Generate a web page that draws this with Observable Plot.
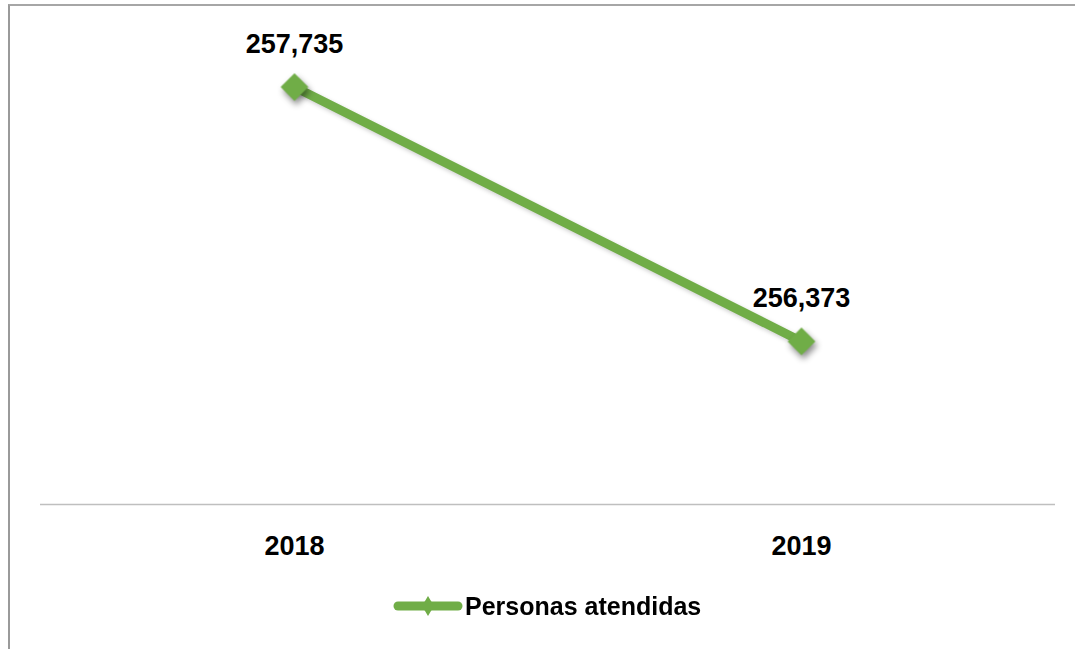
<!DOCTYPE html>
<html>
<head>
<meta charset="utf-8">
<script src="https://cdn.jsdelivr.net/npm/d3@7"></script>
<script src="https://cdn.jsdelivr.net/npm/@observablehq/plot@0.6"></script>
<style>
  html, body { margin: 0; padding: 0; background: #fff; }
  #wrap { position: relative; width: 1075px; height: 649px; overflow: hidden; font-family: "Liberation Sans", Arial, sans-serif; }
  #frame { position: absolute; left: 8px; top: 4px; right: -2px; bottom: -2px; border-left: 2px solid #9a9a9a; border-top: 2px solid #a6a6a6; pointer-events: none; }
  #chart { position: absolute; left: 0; top: 0; }
  #legend { position: absolute; left: 393px; top: 592px; height: 28px; display: flex; align-items: center; font-weight: bold; font-size: 25px; color: #000; }
  #legend svg { display: block; margin-right: 2px; }
</style>
</head>
<body>
<div id="wrap">
  <div id="chart"></div>
  <div id="frame"></div>
  <div id="legend"></div>
</div>
<script>
// ---- data ----
const years = ["2018", "2019"];
const personas = [257735, 256373];
const seriesName = "Personas atendidas";
const yDomain = [255500, 258000];

const data = years.map((y, i) => ({year: y, value: personas[i]}));
const green = "#70AD47";
const fmt = d3.format(",");

const chart = Plot.plot({
  width: 1075,
  height: 580,
  marginTop: 37,
  marginBottom: 76,
  marginLeft: 40,
  marginRight: 20,
  style: {fontFamily: "'Liberation Sans', Arial, sans-serif", background: "transparent", overflow: "visible"},
  x: {type: "point", domain: years, padding: 0.5, align: 0.5, axis: null},
  y: {domain: yDomain, axis: null},
  marks: [
    Plot.ruleY([yDomain[0]], {stroke: "#bfbfbf", strokeWidth: 1.5}),
    Plot.axisX({tickSize: 0, tickPadding: 31, fontSize: 27, fontWeight: "bold", label: null, fill: "#000"}),
    Plot.line(data, {x: "year", y: "value", stroke: green, strokeWidth: 9}),
    Plot.dot(data, {x: "year", y: "value", symbol: "diamond2", r: 12.5, fill: green, stroke: "none"}),
    Plot.text(data, {x: "year", y: "value", text: d => fmt(d.value), dy: -43, fontSize: 27, fontWeight: "bold", fill: "#000"})
  ]
});
document.getElementById("chart").appendChild(chart);
chart.querySelectorAll('g[aria-label="dot"]').forEach(g => g.style.filter = "drop-shadow(2px 4px 3px rgba(0,0,0,0.45))");
chart.querySelectorAll('g[aria-label="line"]').forEach(g => g.style.filter = "drop-shadow(1px 2px 2px rgba(0,0,0,0.2))");

// legend
const leg = document.getElementById("legend");
const ns = "http://www.w3.org/2000/svg";
const sw = document.createElementNS(ns, "svg");
sw.setAttribute("width", 70); sw.setAttribute("height", 28);
sw.innerHTML = `<line x1="5" y1="14" x2="65" y2="14" stroke="${green}" stroke-width="9" stroke-linecap="round"/>
<path d="M35,4 L41,14 L35,24 L29,14 Z" fill="${green}"/>`;
leg.appendChild(sw);
const lt = document.createElement("span");
lt.textContent = seriesName;
leg.appendChild(lt);
</script>
</body>
</html>
